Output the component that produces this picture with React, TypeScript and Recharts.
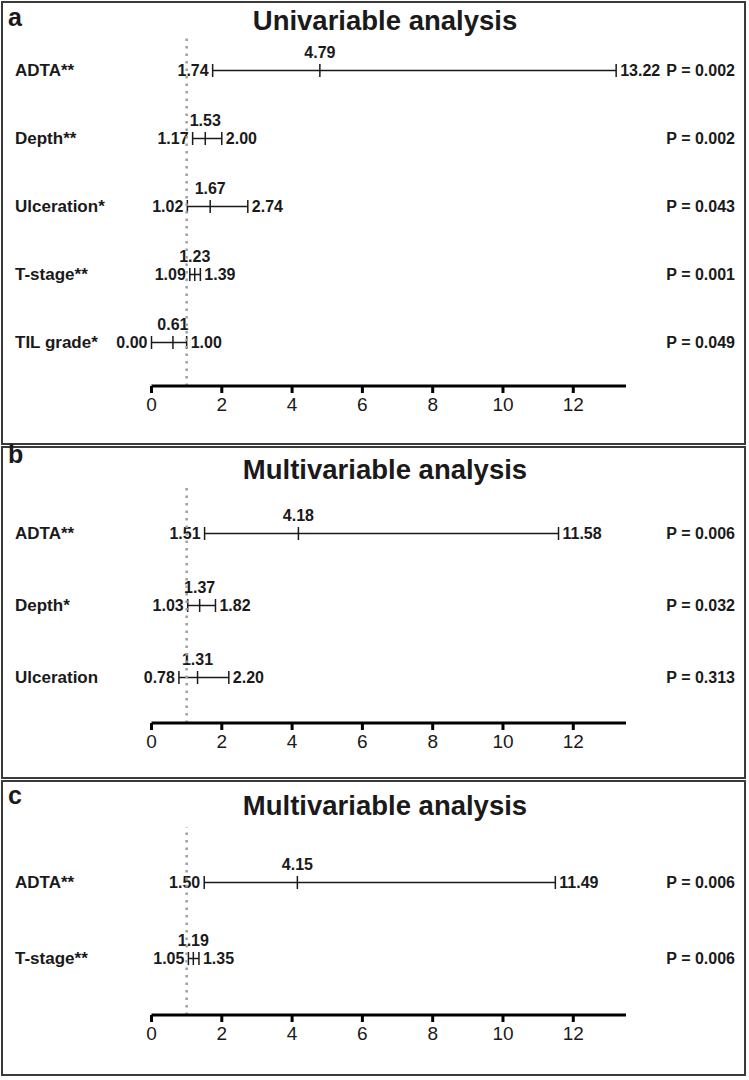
import React from "react";
import { Bar, ComposedChart, ReferenceLine, XAxis, YAxis } from "recharts";

const FONT = "'Liberation Sans', Arial, sans-serif";
const INK = "#1a1a1a";

// a - univariable analysis
const uniNames = ["ADTA**", "Depth**", "Ulceration*", "T-stage**", "TIL grade*"];
const uniOR = [4.79, 1.53, 1.67, 1.23, 0.61];
const uniLow = [1.74, 1.17, 1.02, 1.09, 0.0];
const uniHigh = [13.22, 2.0, 2.74, 1.39, 1.0];
const uniP = ["0.002", "0.002", "0.043", "0.001", "0.049"];

// b - multivariable analysis (ADTA, depth, ulceration)
const multiNames = ["ADTA**", "Depth*", "Ulceration"];
const multiOR = [4.18, 1.37, 1.31];
const multiLow = [1.51, 1.03, 0.78];
const multiHigh = [11.58, 1.82, 2.2];
const multiP = ["0.006", "0.032", "0.313"];

// c - multivariable analysis (ADTA, T-stage)
const stageNames = ["ADTA**", "T-stage**"];
const stageOR = [4.15, 1.19];
const stageLow = [1.5, 1.05];
const stageHigh = [11.49, 1.35];
const stageP = ["0.006", "0.006"];

const xTicks = [0, 2, 4, 6, 8, 10, 12];
const xDomain = [0, 13.5];

const buildRows = (names: string[], or: number[], lo: number[], hi: number[], p: string[]) =>
  names.map((name, i) => ({ name, or: or[i], lo: lo[i], hi: hi[i], p: p[i], range: [lo[i], hi[i]] }));

const ForestShape = (props: any) => {
  const { x, y, width, height, payload } = props;
  const cy = y + height / 2;
  const span = payload.hi - payload.lo;
  const xo = span > 0 ? x + (width * (payload.or - payload.lo)) / span : x;
  const txt = { fontFamily: FONT, fontWeight: 700, fontSize: 16, fill: INK };
  return (
    <g>
      <line x1={x} x2={x + width} y1={cy} y2={cy} stroke={INK} strokeWidth={1.5} />
      <line x1={x} x2={x} y1={y} y2={y + height} stroke={INK} strokeWidth={1.5} />
      <line x1={x + width} x2={x + width} y1={y} y2={y + height} stroke={INK} strokeWidth={1.5} />
      <line x1={xo} x2={xo} y1={y} y2={y + height} stroke={INK} strokeWidth={1.5} />
      <text x={x - 4} y={cy} dy="0.36em" textAnchor="end" {...txt}>
        {payload.lo.toFixed(2)}
      </text>
      <text x={x + width + 4} y={cy} dy="0.36em" textAnchor="start" {...txt}>
        {payload.hi.toFixed(2)}
      </text>
      <text x={xo} y={cy - 13} textAnchor="middle" {...txt}>
        {payload.or.toFixed(2)}
      </text>
    </g>
  );
};

// row name on the left, P value on the right
const RowTick = (props: any) => {
  const { y, index, rows, chartWidth } = props;
  const row = rows[index];
  const txt = { fontFamily: FONT, fontWeight: 700, fill: INK };
  return (
    <g>
      <text x={12} y={y} dy="0.36em" textAnchor="start" fontSize={17} {...txt}>
        {row.name}
      </text>
      <text x={chartWidth - 9} y={y} dy="0.36em" textAnchor="end" fontSize={16} {...txt}>
        {"P = " + row.p}
      </text>
    </g>
  );
};

interface PanelProps {
  letter: string;
  title: string;
  rows: any[];
  height: number;
  plotTop: number;
  axisY: number;
  padTop: number;
  padBottom: number;
  letterTop: number;
  titleTop: number;
}

const CHART_W = 741;
const PLOT_LEFT = 148.5;
const PLOT_RIGHT = 623;

const Panel = ({ letter, title, rows, height, plotTop, axisY, padTop, padBottom, letterTop, titleTop }: PanelProps) => {
  const innerH = height - 4;
  return (
    <div
      style={{
        position: "relative",
        width: 745,
        height,
        boxSizing: "border-box",
        border: "2px solid #3a3a3a",
        marginBottom: 1,
        background: "#fff",
      }}
    >
      <div
        style={{
          position: "absolute",
          left: 5,
          top: letterTop,
          fontFamily: FONT,
          fontWeight: 700,
          fontSize: 25,
          lineHeight: 1,
          color: INK,
        }}
      >
        {letter}
      </div>
      <div
        style={{
          position: "absolute",
          left: 182,
          width: 400,
          top: titleTop,
          textAlign: "center",
          fontFamily: FONT,
          fontWeight: 700,
          fontSize: 27.5,
          lineHeight: 1,
          color: INK,
        }}
      >
        {title}
      </div>
      <div style={{ position: "absolute", left: 0, top: 0 }}>
        <ComposedChart
          layout="vertical"
          width={CHART_W}
          height={innerH}
          data={rows}
          margin={{ top: plotTop, right: CHART_W - PLOT_RIGHT, left: 0, bottom: innerH - axisY - 30 }}
        >
          <XAxis
            type="number"
            domain={xDomain}
            ticks={xTicks}
            height={30}
            axisLine={{ stroke: "#000", strokeWidth: 3 }}
            tickLine={{ stroke: "#000", strokeWidth: 3 }}
            tickSize={7}
            tickMargin={5}
            tick={{ fontFamily: FONT, fontSize: 19, fill: INK }}
          />
          <YAxis
            type="category"
            dataKey="name"
            width={PLOT_LEFT}
            axisLine={false}
            tickLine={false}
            padding={{ top: padTop, bottom: padBottom }}
            tick={(p: any) => <RowTick {...p} rows={rows} chartWidth={CHART_W} />}
          />
          <ReferenceLine x={1} stroke="#a0a0a0" strokeWidth={2.5} strokeDasharray="2.5 5" />
          <Bar dataKey="range" barSize={13} isAnimationActive={false} shape={ForestShape} />
        </ComposedChart>
      </div>
    </div>
  );
};

const uniRows = buildRows(uniNames, uniOR, uniLow, uniHigh, uniP);
const multiRows = buildRows(multiNames, multiOR, multiLow, multiHigh, multiP);
const stageRows = buildRows(stageNames, stageOR, stageLow, stageHigh, stageP);

export default function App() {
  return (
    <div style={{ width: 749, height: 1080, paddingLeft: 1, paddingTop: 1, boxSizing: "border-box", background: "#fff" }}>
      <style>{"body{margin:0;background:#fff}"}</style>
      <Panel
        letter="a"
        title="Univariable analysis"
        rows={uniRows}
        height={444}
        plotTop={33}
        axisY={383}
        padTop={0}
        padBottom={10}
        letterTop={2}
        titleTop={4}
      />
      <Panel
        letter="b"
        title="Multivariable analysis"
        rows={multiRows}
        height={333}
        plotTop={40}
        axisY={275}
        padTop={9}
        padBottom={10}
        letterTop={-6}
        titleTop={8}
      />
      <Panel
        letter="c"
        title="Multivariable analysis"
        rows={stageRows}
        height={296}
        plotTop={45}
        axisY={233}
        padTop={17}
        padBottom={19}
        letterTop={1}
        titleTop={10}
      />
    </div>
  );
}
